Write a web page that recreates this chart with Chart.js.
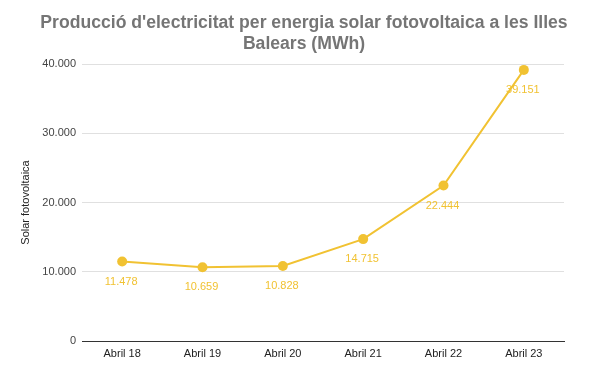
<!DOCTYPE html>
<html>
<head>
<meta charset="utf-8">
<script src="https://cdn.jsdelivr.net/npm/chart.js@4/dist/chart.umd.min.js"></script>
<style>
  html, body { margin: 0; padding: 0; background: #fff; }
  #wrap { width: 608px; height: 376px; }
</style>
</head>
<body>
<div id="wrap"><canvas id="c" width="608" height="376"></canvas></div>
<script>
var labels = ['Abril 18', 'Abril 19', 'Abril 20', 'Abril 21', 'Abril 22', 'Abril 23'];
var solar = [11478, 10659, 10828, 14715, 22444, 39151];
var yTicks = [0, 10000, 20000, 30000, 40000];

var yellow = '#f1c232';

function fmt(v) {
  // punt com a separador de milers
  return String(v).replace(/\B(?=(\d{3})+(?!\d))/g, '.');
}

// titol dibuixat a ma, per controlar la posicio
var titlePlugin = {
  id: 'titol',
  afterDraw: function(chart) {
    var c = chart.ctx;
    c.save();
    c.fillStyle = '#757575';
    c.font = 'bold 17.6px "Liberation Sans", Arial, sans-serif';
    c.textAlign = 'center';
    c.textBaseline = 'middle';
    c.fillText("Producció d'electricitat per energia solar fotovoltaica a les Illes", 304, 23);
    c.fillText('Balears (MWh)', 304, 44);
    c.restore();
  }
};

// etiquetes de valor sota cada punt
var labelPlugin = {
  id: 'etiquetes',
  afterDatasetsDraw: function(chart) {
    var c = chart.ctx;
    var meta = chart.getDatasetMeta(0);
    c.save();
    c.fillStyle = yellow;
    c.font = '11px "Liberation Sans", Arial, sans-serif';
    c.textAlign = 'center';
    c.textBaseline = 'middle';
    meta.data.forEach(function(pt, i) {
      c.fillText(fmt(solar[i]), pt.x - 1, pt.y + 20);
    });
    c.restore();
  }
};

var ctx = document.getElementById('c');
var chart = new Chart(ctx, {
  type: 'line',
  data: {
    labels: labels,
    datasets: [{
      label: 'Solar fotovoltaica',
      data: solar,
      borderColor: yellow,
      backgroundColor: yellow,
      borderWidth: 2,
      pointRadius: 5,
      pointBackgroundColor: yellow,
      pointBorderWidth: 0,
      tension: 0
    }]
  },
  options: {
    responsive: false,
    animation: false,
    layout: { padding: { top: 64, right: 44, left: 19, bottom: 0 } },
    plugins: {
      legend: { display: false },
      tooltip: { enabled: false }
    },
    scales: {
      x: {
        offset: true,
        grid: { display: false, drawTicks: false },
        border: { color: '#333333', width: 1 },
        ticks: {
          color: '#222222',
          padding: 6,
          maxRotation: 0,
          font: { size: 11, family: '"Liberation Sans", Arial, sans-serif' }
        },
        afterFit: function(s) { s.height = 35; }
      },
      y: {
        min: 0,
        max: 40000,
        afterBuildTicks: function(s) {
          s.ticks = yTicks.map(function(v) { return { value: v }; });
        },
        grid: { color: '#e0e0e0', drawTicks: false },
        border: { display: false },
        ticks: {
          color: '#444444',
          padding: 6,
          font: { size: 11, family: '"Liberation Sans", Arial, sans-serif' },
          callback: function(v) { return fmt(v); }
        },
        title: {
          display: true,
          text: 'Solar fotovoltaica',
          color: '#222222',
          padding: { top: 0, bottom: 8 },
          font: { size: 11, family: '"Liberation Sans", Arial, sans-serif' }
        },
        afterFit: function(s) { s.width = 63; }
      }
    }
  },
  plugins: [titlePlugin, labelPlugin]
});
</script>
</body>
</html>
